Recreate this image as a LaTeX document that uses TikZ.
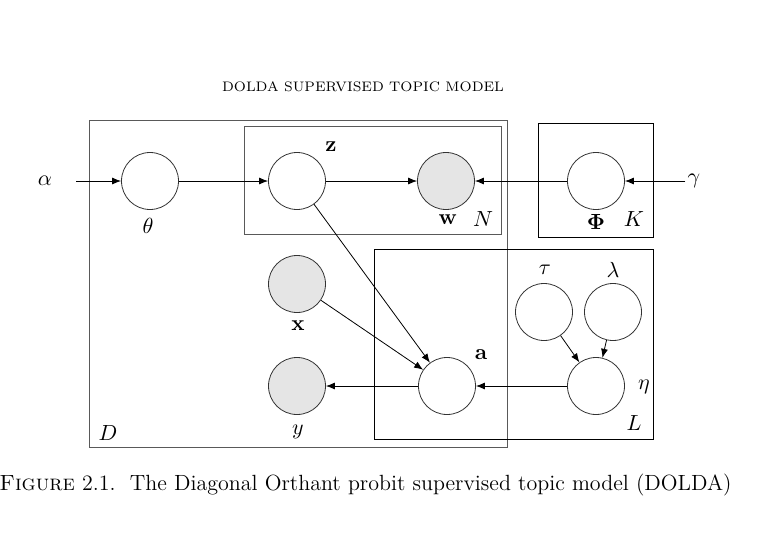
\documentclass[tikz,border=0pt]{standalone}
\usepackage{amsmath}
\usetikzlibrary{arrows.meta,positioning}
\begin{document}
\begin{tikzpicture}[x=0.5pt,y=-0.5pt,
  var/.style={circle,draw=black!80,thin,minimum size=28.5pt,inner sep=0pt,fill=white},
  obs/.style={var,fill=black!10},
  plate/.style={draw=black!65,thin},
  edge/.style={-{Latex[length=4.5pt,width=3.5pt]},thin},
  lab/.style={font=\fontsize{11}{13}\selectfont,inner sep=1pt}]
  \useasboundingbox (0,0) rectangle (771,536);
  \node[font=\fontsize{6.9}{9}\selectfont] (title) at (363,87) {DOLDA SUPERVISED TOPIC MODEL};
  % plates D, N, K, L
  \draw[plate] (89,120) rectangle (507,447);
  \draw[plate] (244,126) rectangle (501,234);
  \draw (538,123) rectangle (653,237);
  \draw (374,249) rectangle (653,439);
  % variables
  \node[var] (theta)  at (150,181) {};
  \node[var] (z)      at (297,181) {};
  \node[obs] (w)      at (446,181) {};
  \node[var] (Phi)    at (596,181) {};
  \node[obs] (x)      at (297,284) {};
  \node[obs] (y)      at (297,386) {};
  \node[var] (a)      at (447,386) {};
  \node[var] (tau)    at (544,312) {};
  \node[var] (lambda) at (613,312) {};
  \node[var] (eta)    at (596,386) {};
  % labels
  \node[lab] (alpha)  at (45,181)  {$\alpha$};
  \node[lab] (gamma)  at (694,181) {$\gamma$};
  \node[lab] (thetal) at (148,226) {$\theta$};
  \node[lab] (zl)     at (331,147) {$\mathbf{z}$};
  \node[lab] (wl)     at (448,220) {$\mathbf{w}$};
  \node[lab] (Nl)     at (483,219) {$N$};
  \node[lab] (Phil)   at (596,222) {$\mathbf{\Phi}$};
  \node[lab] (Kl)     at (634,219) {$K$};
  \node[lab] (xl)     at (298,326) {$\mathbf{x}$};
  \node[lab] (yl)     at (298,432) {$y$};
  \node[lab] (al)     at (481,355) {$\mathbf{a}$};
  \node[lab] (taul)   at (545,270) {$\tau$};
  \node[lab] (lambdal) at (613,270) {$\lambda$};
  \node[lab] (etal)   at (644,387) {$\eta$};
  \node[lab] (Ll)     at (634,423) {$L$};
  \node[lab] (Dl)     at (108,433) {$D$};
  % edges
  \draw[edge,shorten <=11pt] (alpha) -- (theta);
  \draw[edge] (theta) -- (z);
  \draw[edge] (z) -- (w);
  \draw[edge] (Phi) -- (w);
  \draw[edge] (gamma) -- (Phi);
  \draw[edge] (z) -- (a);
  \draw[edge] (x) -- (a);
  \draw[edge] (a) -- (y);
  \draw[edge] (eta) -- (a);
  \draw[edge] (tau) -- (eta);
  \draw[edge] (lambda) -- (eta);
  % caption
  \node[anchor=base west,font=\fontsize{11}{13}\selectfont,inner sep=0pt] (caption) at (-1,490)
    {\textsc{Figure} 2.1.\ \ The Diagonal Orthant probit supervised topic model (DOLDA)};
\end{tikzpicture}
\end{document}
